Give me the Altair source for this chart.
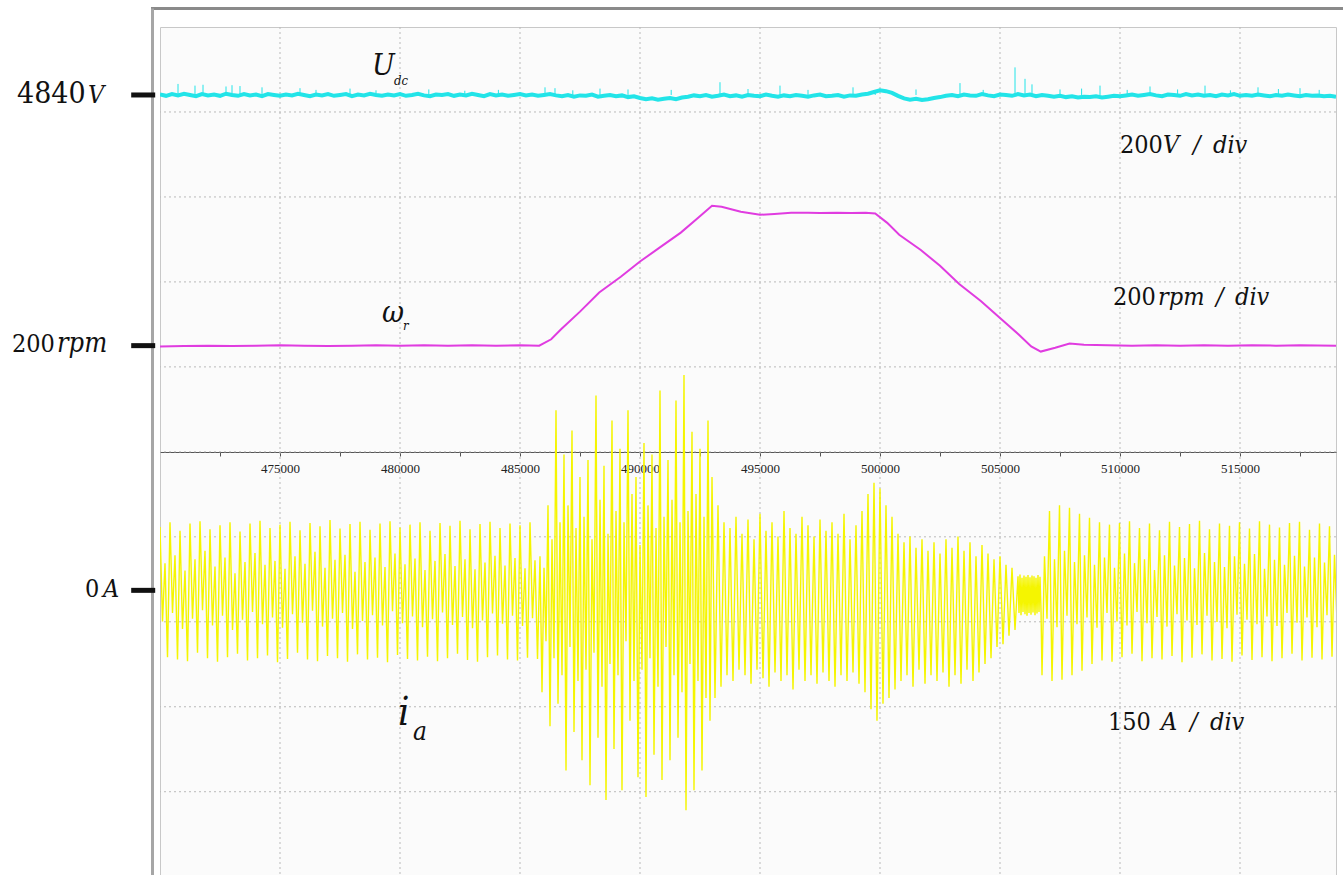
import altair as alt
import pandas as pd

# ---------------- data ----------------
T_START = 470000
T_END = 519000

x_ticks = [472500, 475000, 477500, 480000, 482500, 485000, 487500, 490000, 492500,
           495000, 497500, 500000, 502500, 505000, 507500, 510000, 512500, 515000, 517500]
x_grid = [475000, 480000, 485000, 490000, 495000, 500000, 505000, 510000, 515000]
y_grid = [1, 2, 3, 4, 5, 6, 7, 8, 9]          # screen divisions

# channel settings: reference level (division) and units per division
UD_REF, UD_LEVEL, UD_PER_DIV = 9.2, 4840, 200
WR_REF, WR_LEVEL, WR_PER_DIV = 6.25, 200, 200
IA_REF, IA_LEVEL, IA_PER_DIV = 3.37, 0, 150

# DC-link voltage Udc [V], one sample every 250 time units
UD_STEP = 250
ud_v = [4841, 4838, 4842, 4839, 4843, 4840, 4837, 4842, 4839, 4841, 4838, 4843, 4840, 4838, 4842, 4839, 4841, 4837, 4842, 4840,
        4838, 4841, 4839, 4843, 4840, 4837, 4841, 4839, 4842, 4838, 4840, 4842, 4837, 4841, 4839, 4843, 4840, 4838, 4841, 4839,
        4842, 4838, 4840, 4843, 4839, 4837, 4841, 4840, 4842, 4838, 4841, 4839, 4843, 4840, 4837, 4842, 4839, 4841, 4838, 4840,
        4842, 4839, 4841, 4838, 4840, 4842, 4839,
        4837, 4840, 4836, 4839, 4838, 4841, 4836, 4838, 4840, 4837, 4839, 4835, 4837,
        4833, 4830, 4832, 4829, 4831, 4833, 4830, 4834,
        4836, 4839, 4837, 4840, 4836, 4838, 4841, 4837, 4839, 4836, 4840, 4838, 4837, 4841, 4838, 4836, 4839, 4837, 4840, 4838,
        4836, 4839, 4841, 4837, 4838, 4840, 4836, 4839, 4838, 4841, 4843,
        4847, 4851, 4849, 4845,
        4838, 4832, 4829, 4831, 4828, 4830, 4833, 4835,
        4838, 4840, 4837, 4841, 4839, 4838, 4842, 4839, 4837, 4841, 4840, 4838, 4842, 4839, 4841, 4837, 4840, 4838, 4836, 4838,
        4835, 4837, 4834, 4836, 4835, 4837, 4834, 4836, 4838, 4837,
        4839, 4841, 4838, 4840, 4842, 4839, 4837, 4841, 4840, 4838, 4842, 4839, 4841, 4838, 4840, 4837, 4841, 4839, 4842, 4838,
        4840, 4838, 4841, 4839, 4837, 4840, 4838, 4841, 4839, 4837, 4840, 4838, 4839, 4837, 4838, 4836]

# Udc spikes: time and peak voltage
spike_t = [470750, 471458, 471792, 472750, 473000, 473333, 474250, 475833, 476500, 477917, 479000, 481200,
           482700, 484100, 486042, 486458, 487200, 488333, 489500, 491300, 493333, 494500, 495833, 497000,
           498875, 499800, 501500, 503333, 504300, 505625, 506042, 506333, 507500, 508400, 509167, 510300,
           511250, 512400, 513542, 514600, 515750, 516600, 517500, 518300]
spike_v = [4866, 4862, 4864, 4860, 4863, 4861, 4858, 4856, 4852, 4855, 4851, 4853,
           4850, 4852, 4858, 4856, 4851, 4855, 4853, 4852, 4870, 4854, 4862, 4852,
           4858, 4851, 4853, 4868, 4852, 4905, 4878, 4865, 4853, 4855, 4862, 4852,
           4860, 4853, 4862, 4851, 4858, 4854, 4856, 4852]

# rotor speed omega_r [rpm]
wr_t = [470000, 471000, 472000, 473000, 474000, 475000, 476000, 477000, 478000, 479000, 480000, 481000,
        482000, 483000, 484000, 485000, 485800,
        486300, 486700, 487500, 488300, 489200, 490000, 490800, 491700, 492400, 493000, 493400,
        494200, 495000, 495600, 496300, 497000, 497500, 498200, 498800, 499400, 499800,
        500300, 500800, 501700, 502500, 503300, 504200, 505000, 505800, 506300, 506700, 507300, 507900, 508500,
        509500, 510500, 511500, 512500, 513500, 514500, 515500, 516500, 517500, 519000]
wr_v = [198, 199, 200, 199, 200, 201, 200, 199, 200, 201, 200, 201,
        200, 201, 200, 201, 200,
        215, 238, 280, 325, 362, 398, 430, 466, 500, 529, 527,
        515, 508, 510, 513, 513, 512, 513, 512, 513, 511,
        489, 461, 425, 388, 345, 305, 265, 225, 198, 186, 195, 205, 202,
        201, 200, 201, 200, 201, 200, 201, 200, 201, 200]

# phase current i_a [A]: successive sample values, segments with their own sample spacing
ia_a = [112, -55, 48, -118, 120, -40, 62, -122, 105, -68, 35, -125, 118, -50, 55, -110,
        122, -35, 70, -120, 108, -62, 42, -126, 115, -45, 58, -118, 120, -70, 30, -112,
        104, -52, 50, -124, 118, -38, 66, -120, 123, -60, 45, -115, 110, -48, 52, -127,
        116, -66, 38, -121, 121, -42, 60, -110, 106, -57, 47, -122, 119, -36, 68, -125,
        113, -64, 40, -116, 124, -50, 54, -120, 109, -40, 63, -126, 117, -68, 33, -113,
        121, -54, 50, -122, 107, -44, 58, -119, 118, -62, 41, -127, 122, -37, 65, -114,
        111, -58, 46, -121, 116, -46, 56, -124, 120, -65, 36, -117, 105, -51, 52, -125,
        119, -39, 64, -120, 114, -61, 43, -112, 123, -47, 55, -123, 108, -67, 37, -126,
        117, -53, 49, -118, 121, -41, 61, -115, 110, -59, 44, -122, 118, -45, 57, -124,
        115, -63, 39, -119, 120, -49, 53, -121]
ia_b = [60, -180, 40, -90, 150, -240, 90, -120, 318, -200, 120, -150, 240, -318, 150, -100,
        282, -250, 110, -160, 200, -300, 130, -140, 230, -344, 90, -110, 344, -260, 160, -170,
        220, -370, 100, -130, 300, -280, 140, -150, 250, -353, 120, -90, 318, -230, 170, -160,
        200, -330, 80, -140, 260, -365, 150, -120, 240, -290, 110, -170, 353, -335, 130, -100,
        230, -300, 160, -150, 335, -260, 120, -180, 380, -388, 140, -130, 280, -353, 170, -160,
        250, -318, 130, -190, 300, -230]
ia_c = [200, -190, 150, -170, 120, -150, 110, -160, 130, -140,
        100, -150, 125, -165, 90, -140, 135, -155, 105, -170,
        120, -145, 95, -160, 140, -150, 110, -175, 100, -140,
        130, -160, 115, -150, 95, -165, 125, -145, 105, -160,
        120, -170, 100, -150, 135, -160, 90, -145, 115, -165,
        140, -180, 170, -210, 190, -230, 180, -200, 150, -190,
        130, -175, 100, -160, 85, -150, 95, -170, 75, -140,
        90, -165, 70, -150, 85, -160, 65, -145, 90, -170,
        75, -150, 95, -165, 70, -140, 85, -160, 60, -145,
        80, -130, 65, -120, 55, -100, 60, -95, 45, -80,
        40, -70]
ia_blob = [25, -40, 28, -44, 22, -38, 26, -42, 24, -45, 27, -40, 23, -43, 26, -39, 25, -44, 22, -41, 27, -38, 24, -35]
ia_d = [-150, 60, -50, 140, -160, 55, -65, 150, -158, 70, -45, 146, -150, 50, -60, 135,
        -142, 62, -48, 128, -130, 45, -66, 120, -124, 58, -40, 116, -126, 40, -55, 119,
        -118, 65, -62, 122, -112, 48, -38, 110, -125, 55, -58, 118, -120, 36, -47, 106,
        -122, 62, -64, 121, -116, 44, -42, 112, -127, 57, -53, 117, -119, 39, -61, 123,
        -113, 66, -45, 108, -124, 50, -56, 118, -121, 41, -67, 114, -126, 60, -43, 120,
        -115, 47, -52, 109, -123, 64, -60, 122, -118, 38, -46, 116, -125, 54, -63, 111,
        -120, 45, -40, 119, -112, 61, -57, 121, -124, 42, -48, 107, -119, 58, -65, 118,
        -122, 49, -44, 113, -117, 63, -55, 120]
ia_segments = [(ia_a, 5000 / 48), (ia_b, 5000 / 60), (ia_c, 125.0), (ia_blob, 5000 / 120), (ia_d, 5000 / 48)]

# annotations (anchor in time units / divisions)
ann_plain = [("4840", 464042, 9.106, 30), ("200", 463833, 6.175, 25), ("0", 466875, 3.292, 25),
             ("200", 510000, 8.517, 25), ("200", 509708, 6.728, 25), ("150", 509500, 1.727, 25)]
ann_italic = [("V", 467000, 9.106, 25), ("rpm", 465708, 6.175, 27), ("A", 467625, 3.292, 25),
              ("V", 511792, 8.517, 25), ("/", 513042, 8.517, 25), ("div", 513875, 8.517, 25),
              ("rpm", 511583, 6.728, 25), ("/", 514000, 6.728, 25), ("div", 514792, 6.728, 25),
              ("A", 511708, 1.727, 25), ("/", 512917, 1.727, 25), ("div", 513750, 1.727, 25),
              ("U", 478833, 9.435, 30), ("dc", 479750, 9.317, 13),
              ("ω", 479250, 6.528, 30), ("r", 480125, 6.434, 13),
              ("i", 479917, 1.785, 40), ("a", 480542, 1.609, 26)]
marker_t = [468800, 469800]

# ---------------- tables ----------------
ud_df = pd.DataFrame({"t": [T_START + i * UD_STEP for i in range(len(ud_v))], "v": ud_v})
ud_df["d"] = UD_REF + (ud_df["v"] - UD_LEVEL) / UD_PER_DIV

sp_df = pd.DataFrame({"t": spike_t, "v": spike_v})
sp_df["d"] = UD_REF + (sp_df["v"] - UD_LEVEL) / UD_PER_DIV
sp_df["d0"] = UD_REF

wr_df = pd.DataFrame({"t": wr_t, "v": wr_v})
wr_df["d"] = WR_REF + (wr_df["v"] - WR_LEVEL) / WR_PER_DIV

ia_t, ia_v = [], []
t_cur = T_START
for vals, step in ia_segments:
    for v in vals:
        ia_t.append(t_cur)
        ia_v.append(v)
        t_cur += step
ia_df = pd.DataFrame({"t": ia_t, "v": ia_v})
ia_df["d"] = IA_REF + (ia_df["v"] - IA_LEVEL) / IA_PER_DIV

mk_df = pd.DataFrame({"t": [marker_t[0]] * 3, "t2": [marker_t[1]] * 3, "d": [UD_REF, WR_REF, IA_REF]})
plain_df = pd.DataFrame(ann_plain, columns=["text", "t", "d", "size"])
ital_df = pd.DataFrame(ann_italic, columns=["text", "t", "d", "size"])
xg_df = pd.DataFrame({"t": x_grid})
yg_df = pd.DataFrame({"d": y_grid})
one = pd.DataFrame({"k": [0]})

# ---------------- encodings ----------------
W, H = 1176, 848
xs = alt.Scale(domain=[T_START, T_END], nice=False, zero=False)
ys = alt.Scale(domain=[0.02, 10], nice=False, zero=False)
x_axis = alt.Axis(values=x_ticks, labelExpr="datum.value % 5000 == 0 ? datum.label : ''", format="d",
                  orient="bottom", offset=-423, grid=False, title=None, domainColor="#555555",
                  tickColor="#555555", tickSize=4, labelFont="Liberation Sans Narrow", labelFontSize=13,
                  labelColor="#222222", labelPadding=6, labelFlush=False, labelOverlap=False)
X = alt.X("t:Q", scale=xs, axis=x_axis)
Y = alt.Y("d:Q", scale=ys, axis=None)

frame_top = alt.Chart(one).mark_rule(color="#8a8a8a", strokeWidth=3).encode(
    x=alt.value(-9), x2=alt.value(W + 10), y=alt.value(-18.5))
frame_left = alt.Chart(one).mark_rule(color="#a6a6a6", strokeWidth=3).encode(
    x=alt.value(-7.5), y=alt.value(-18.5), y2=alt.value(H))

grid_x = alt.Chart(xg_df).mark_rule(color="#b9b9b9", strokeWidth=1, strokeDash=[2, 3]).encode(x=X)
grid_y = alt.Chart(yg_df).mark_rule(color="#b9b9b9", strokeWidth=1, strokeDash=[2, 3]).encode(y=Y)

ia_line = alt.Chart(ia_df).mark_line(color="#f5f500", strokeWidth=1.4, clip=True).encode(x=X, y=Y)
wr_line = alt.Chart(wr_df).mark_line(color="#e03ce0", strokeWidth=2, clip=True).encode(x=X, y=Y)
ud_line = alt.Chart(ud_df).mark_line(color="#22e4e8", strokeWidth=4, clip=True).encode(x=X, y=Y)
ud_spikes = alt.Chart(sp_df).mark_rule(color="#22e4e8", strokeWidth=1).encode(x=X, y=Y, y2="d0:Q")

markers = alt.Chart(mk_df).mark_rule(color="#111111", strokeWidth=5).encode(x=X, x2="t2:Q", y=Y)

txt_plain = alt.Chart(plain_df).mark_text(font="DejaVu Serif Condensed", align="left", baseline="alphabetic",
                                          color="#111111").encode(
    x=X, y=Y, text="text:N", size=alt.Size("size:Q", scale=None))
txt_ital = alt.Chart(ital_df).mark_text(font="DejaVu Serif Condensed", fontStyle="italic", align="left",
                                        baseline="alphabetic", color="#111111").encode(
    x=X, y=Y, text="text:N", size=alt.Size("size:Q", scale=None))

chart = alt.layer(frame_top, frame_left, grid_x, grid_y, ia_line, wr_line, ud_line, ud_spikes,
                  markers, txt_plain, txt_ital).properties(
    width=W, height=H, autosize=alt.AutoSizeParams(type="none"),
    padding={"left": 160, "top": 27, "right": 7, "bottom": 0},
    background="#ffffff",
).configure_view(fill="#fbfbfb", stroke="#c8c8c8", strokeWidth=1)

chart.save("out.html", embed_options={"renderer": "svg", "actions": False})
